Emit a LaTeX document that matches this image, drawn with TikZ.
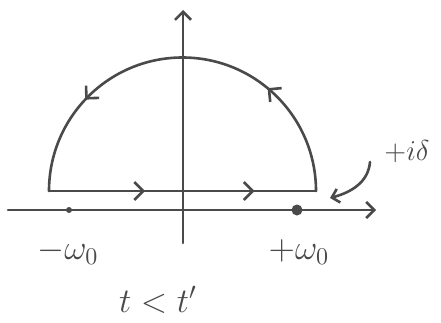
\documentclass[tikz,border=0pt]{standalone}
\usetikzlibrary{arrows.meta,decorations.markings}
\definecolor{ink}{HTML}{4A4A4A}
\begin{document}
\begin{tikzpicture}[x=1pt,y=1pt,
  pen/.style={draw=ink,line width=2.6pt,line cap=round,line join=round},
  lbl/.style={text=ink,font=\Large,inner sep=0pt,transform shape}]
\useasboundingbox (0,0) rectangle (441,322);
% axes
\coordinate (xl) at (8,112);
\coordinate (xr) at (376,112);
\coordinate (yb) at (183,79);
\coordinate (yt) at (183,312);
\draw[pen,-{Straight Barb[length=8pt,width=16pt]}] (xl) -- (xr);
\draw[pen,-{Straight Barb[length=8pt,width=16pt]}] (yb) -- (yt);
% contour
\coordinate (cl) at (49,131);
\coordinate (cr) at (316,131);
\draw[pen,postaction={decorate},decoration={markings,
  mark=at position 0.36 with {\arrow[ink,line width=2.6pt]{Straight Barb[length=9pt,width=18pt]}},
  mark=at position 0.77 with {\arrow[ink,line width=2.6pt]{Straight Barb[length=9pt,width=18pt]}}}]
  (cl) -- (cr);
\draw[pen,postaction={decorate},decoration={markings,
  mark=at position 0.28 with {\arrow[ink,line width=2.6pt]{Straight Barb[length=9pt,width=18pt]}},
  mark=at position 0.76 with {\arrow[ink,line width=2.6pt]{Straight Barb[length=9pt,width=18pt]}}}]
  (cr) arc[start angle=0,end angle=180,radius=133.5];
% poles
\fill[ink] (69,112) circle[radius=3] coordinate (pm);
\fill[ink] (297,112) circle[radius=5.5] coordinate (pp);
% labels
\node[lbl,scale=2.4] (lm) at (68,70) {$-\omega_0$};
\node[lbl,scale=2.4] (lp) at (299,70) {$+\omega_0$};
\node[lbl,scale=2.0] (ld) at (407,170) {$+i\delta$};
\node[lbl,scale=2.4] (lt) at (158,22) {$t<t'$};
% curved arrow
\coordinate (ds) at (370,160);
\coordinate (de) at (330,124);
\draw[pen,-{Straight Barb[length=7pt,width=14pt]}] (ds) to[out=-95,in=15] (de);
\end{tikzpicture}
\end{document}
